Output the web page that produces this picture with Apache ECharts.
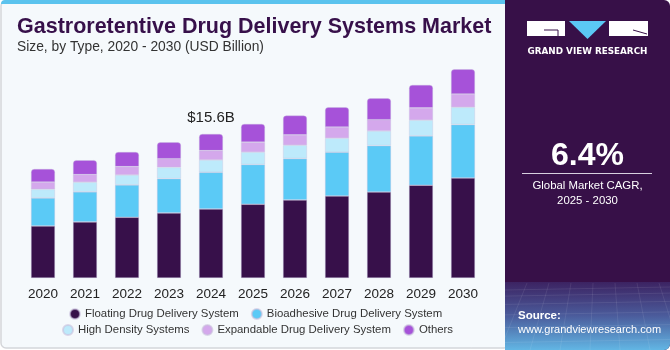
<!DOCTYPE html>
<html>
<head>
<meta charset="utf-8">
<script src="https://cdn.jsdelivr.net/npm/echarts@6/dist/echarts.min.js"></script>
<style>
  html, body { margin: 0; padding: 0; background: #fff; }
  #main { width: 670px; height: 350px; }
</style>
</head>
<body>
<div id="main"></div>
<script>
var years = ['2020', '2021', '2022', '2023', '2024', '2025', '2026', '2027', '2028', '2029', '2030'];
var floating = [5.63, 6.07, 6.57, 7.04, 7.47, 7.98, 8.45, 8.88, 9.31, 10.04, 10.83];
var bioadhesive = [3.03, 3.25, 3.50, 3.71, 3.97, 4.30, 4.47, 4.73, 5.01, 5.34, 5.77];
var highDensity = [0.94, 1.05, 1.08, 1.23, 1.33, 1.34, 1.45, 1.52, 1.59, 1.70, 1.88];
var expandable = [0.79, 0.82, 0.90, 0.93, 1.01, 1.08, 1.12, 1.22, 1.22, 1.33, 1.44];
var others = [1.41, 1.56, 1.59, 1.78, 1.81, 1.98, 2.09, 2.13, 2.32, 2.49, 2.67];
var seriesNames = ['Floating Drug Delivery System', 'Bioadhesive Drug Delivery System',
  'High Density Systems', 'Expandable Drug Delivery System', 'Others'];
var colors = ['#37104a', '#5bcaf6', '#bdeafb', '#d4a8ec', '#a652d9'];
var labelYear = '2024';
var labelText = '$15.6B';

var chart = echarts.init(document.getElementById('main'));
var font = 'Liberation Sans';

function makeSeries(name, data, color, isTop) {
  var s = {
    name: name,
    type: 'bar',
    stack: 'total',
    barWidth: 24,
    data: data.slice(),
    itemStyle: {
      color: color,
      borderColor: 'rgba(200,190,220,0.6)',
      borderWidth: 0.6,
      borderRadius: isTop ? [3, 3, 0, 0] : 0
    }
  };
  if (isTop) {
    var i = years.indexOf(labelYear);
    s.data[i] = {
      value: data[i],
      label: {
        show: true, position: 'top', distance: 9,
        formatter: labelText, fontFamily: font, fontSize: 15, color: '#222'
      }
    };
  }
  return s;
}

var legendText = { fontFamily: font, fontSize: 11.4, color: '#333' };

// faint mesh on the bottom of the side panel
var mesh = [];
for (var k = 0; k < 9; k++) {
  mesh.push({ type: 'line', z: -6, silent: true,
    shape: { x1: 505 + k * 22, y1: 283, x2: 470 + k * 30, y2: 350 },
    style: { stroke: 'rgba(255,255,255,0.12)', lineWidth: 0.7 } });
}
for (var m = 0; m < 8; m++) {
  var yy = 287 + m * m * 1.1 + m * 5;
  mesh.push({ type: 'line', z: -6, silent: true,
    shape: { x1: 505, y1: yy + 3, x2: 670, y2: yy },
    style: { stroke: 'rgba(255,255,255,0.12)', lineWidth: 0.7 } });
}

var options = {
  backgroundColor: '#ffffff',
  animation: false,
  color: colors,
  grid: { left: 22, right: 186, top: 47, bottom: 72 },
  xAxis: {
    type: 'category',
    data: years,
    axisLine: { show: false },
    axisTick: { show: false },
    axisLabel: { fontFamily: font, fontSize: 13.5, color: '#222', margin: 9 }
  },
  yAxis: { type: 'value', min: 0, max: 25, show: false },
  legend: [{
    data: seriesNames.slice(0, 2),
    left: 64, top: 303, icon: 'circle', itemWidth: 10, itemHeight: 10, itemGap: 12,
    textStyle: legendText
  }, {
    data: seriesNames.slice(2),
    left: 57, top: 319, icon: 'circle', itemWidth: 10, itemHeight: 10, itemGap: 12,
    textStyle: legendText
  }],
  graphic: [
    // left panel
    { type: 'rect', z: -10, shape: { x: 1, y: 1, width: 508, height: 347, r: 5 },
      style: { fill: '#f5f9fc', stroke: '#d4d6da', lineWidth: 1.5 } },
    { type: 'rect', z: -9, shape: { x: 1, y: 0, width: 508, height: 4, r: [4, 0, 0, 0] },
      style: { fill: '#5bc3ee' } },
    { type: 'text', left: 17, top: 16, z: 5,
      style: { text: 'Gastroretentive Drug Delivery Systems Market', font: 'bold 21.5px "Liberation Sans"', fill: '#37104a' } },
    { type: 'text', left: 17, top: 40, z: 5,
      style: { text: 'Size, by Type, 2020 - 2030 (USD Billion)', font: '13.8px "Liberation Sans"', fill: '#333' } },
    // right panel
    { type: 'rect', z: -8, shape: { x: 505, y: 0, width: 165, height: 350, r: [0, 6, 6, 0] },
      style: { fill: '#371048' } },
    { type: 'rect', z: -7, shape: { x: 505, y: 282, width: 165, height: 68, r: [0, 0, 6, 0] },
      style: { fill: new echarts.graphic.LinearGradient(0, 0, 0, 1, [
        { offset: 0, color: '#3c2362' }, { offset: 0.5, color: '#4b5c9c' }, { offset: 1, color: '#62b6e4' }]) } },
    // logo
    { type: 'polygon', z: 5, shape: { points: [[527, 21], [565, 21], [565, 36], [527, 36]] }, style: { fill: '#fff' } },
    { type: 'line', z: 6, shape: { x1: 544, y1: 30, x2: 558, y2: 30 }, style: { stroke: '#371048', lineWidth: 1 } },
    { type: 'line', z: 6, shape: { x1: 558, y1: 30, x2: 558, y2: 36 }, style: { stroke: '#371048', lineWidth: 1 } },
    { type: 'polygon', z: 5, shape: { points: [[569, 21], [606, 21], [587.5, 39]] }, style: { fill: '#5bc8f5' } },
    { type: 'polygon', z: 5, shape: { points: [[609, 21], [648, 21], [648, 36], [609, 36]] }, style: { fill: '#fff' } },
    { type: 'line', z: 6, shape: { x1: 633, y1: 30, x2: 647, y2: 34 }, style: { stroke: '#371048', lineWidth: 1 } },
    { type: 'text', z: 5, x: 587.5, y: 52,
      style: { text: 'GRAND VIEW RESEARCH', font: 'bold 8.8px "DejaVu Sans"', fill: '#fff', align: 'center', verticalAlign: 'middle' } },
    { type: 'text', z: 5, x: 587.5, y: 156,
      style: { text: '6.4%', font: 'bold 32px "Liberation Sans"', fill: '#fff', align: 'center', verticalAlign: 'middle' } },
    { type: 'line', z: 5, shape: { x1: 522, y1: 173.5, x2: 652, y2: 173.5 }, style: { stroke: '#d8d0e0', lineWidth: 1 } },
    { type: 'text', z: 5, x: 587.5, y: 186,
      style: { text: 'Global Market CAGR,', font: '11.4px "Liberation Sans"', fill: '#fff', align: 'center', verticalAlign: 'middle' } },
    { type: 'text', z: 5, x: 587.5, y: 201,
      style: { text: '2025 - 2030', font: '11.4px "Liberation Sans"', fill: '#fff', align: 'center', verticalAlign: 'middle' } },
    { type: 'text', z: 5, x: 518, y: 316,
      style: { text: 'Source:', font: 'bold 11.5px "Liberation Sans"', fill: '#fff', verticalAlign: 'middle' } },
    { type: 'text', z: 5, x: 518, y: 330,
      style: { text: 'www.grandviewresearch.com', font: '11px "Liberation Sans"', fill: '#fff', verticalAlign: 'middle' } }
  ].concat(mesh),
  series: [
    makeSeries(seriesNames[0], floating, colors[0], false),
    makeSeries(seriesNames[1], bioadhesive, colors[1], false),
    makeSeries(seriesNames[2], highDensity, colors[2], false),
    makeSeries(seriesNames[3], expandable, colors[3], false),
    makeSeries(seriesNames[4], others, colors[4], true)
  ]
};
chart.setOption(options);
</script>
</body>
</html>
